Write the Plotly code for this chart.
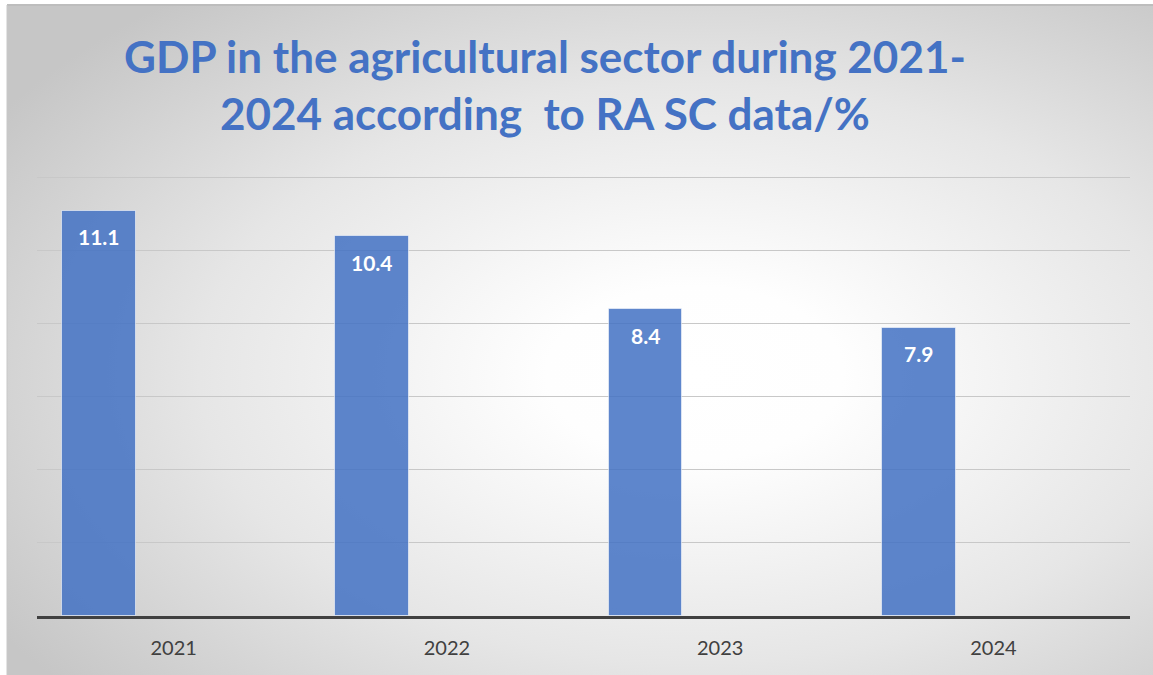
import base64
import plotly.graph_objects as go

years = ["2021", "2022", "2023", "2024"]
gdp_share = [11.1, 10.4, 8.4, 7.9]
y_ticks = [0, 2, 4, 6, 8, 10, 12]
title_text = "GDP in the agricultural sector during 2021-<br>2024 according\u00a0 to RA SC data/%"

W, H = 1153, 675
L, R, T, B = 37, 23, 176, 59
pw, ph = W - L - R, H - T - B

svg = (
    "<svg xmlns='http://www.w3.org/2000/svg' width='1146' height='670' viewBox='0 0 1146 670' "
    "preserveAspectRatio='none'><defs><radialGradient id='g' cx='0.6' cy='0.55' r='0.72'>"
    "<stop offset='0' stop-color='#ffffff'/><stop offset='0.18' stop-color='#fefefe'/>"
    "<stop offset='0.6' stop-color='#e6e6e6'/>"
    "<stop offset='1' stop-color='#c6c6c6'/></radialGradient></defs>"
    "<rect width='1146' height='670' fill='url(#g)'/></svg>"
)
bg_uri = "data:image/svg+xml;base64," + base64.b64encode(svg.encode()).decode()

fx0 = (7 - L) / pw
fy_top = (H - B - 5) / ph
fx1 = (W - L) / pw
fy_bot = (H - B - H) / ph

bar_offset = -0.408
bar_width = 0.27

fig = go.Figure()
fig.add_trace(go.Bar(
    x=years, y=gdp_share,
    width=[bar_width] * len(years), offset=[bar_offset] * len(years),
    marker=dict(color="rgba(68,114,196,0.86)", line=dict(color="rgba(255,255,255,0.55)", width=1)),
    hoverinfo="x+y", showlegend=False,
))

annotations = []
for i, v in enumerate(gdp_share):
    annotations.append(dict(
        x=i + bar_offset + bar_width / 2, y=v, xref="x", yref="y",
        text=f"<b>{v}</b>", showarrow=False, yanchor="middle", yshift=-26,
        font=dict(family="Lato", size=21, color="white"),
    ))

annotations.append(dict(
    x=(545 - L) / pw, y=(H - B - 84) / ph, xref="paper", yref="paper",
    xanchor="center", yanchor="middle", showarrow=False,
    text=f"<b>{title_text}</b>",
    font=dict(family="Lato", size=44, color="#4472C4"),
))

fig.update_layout(
    width=W, height=H,
    margin=dict(l=L, r=R, t=T, b=B),
    paper_bgcolor="white", plot_bgcolor="rgba(0,0,0,0)",
    images=[dict(
        source=bg_uri, xref="paper", yref="paper", x=fx0, y=fy_top,
        sizex=fx1 - fx0, sizey=fy_top - fy_bot, sizing="stretch",
        xanchor="left", yanchor="top", layer="below",
    )],
    shapes=[dict(
        type="line", xref="paper", yref="paper", x0=fx0, x1=fx1, y0=fy_top, y1=fy_top,
        line=dict(color="#bdbdbd", width=2),
    ), dict(
        type="line", xref="paper", yref="paper", x0=fx0, x1=fx0, y0=fy_bot, y1=fy_top,
        line=dict(color="#c8c8c8", width=1),
    )],
    annotations=annotations,
    xaxis=dict(
        type="category", range=[-0.5, 3.5], showline=True, linecolor="#404040", linewidth=3,
        showgrid=False, ticks="outside", ticklen=12, tickcolor="rgba(0,0,0,0)",
        tickfont=dict(family="Lato", size=20, color="#404040"),
    ),
    yaxis=dict(
        range=[0, 12.05], tickvals=y_ticks, showticklabels=False, showgrid=True,
        gridcolor="#c8c8c8", gridwidth=1, zeroline=False, showline=False,
    ),
    bargap=0,
)

fig.write_html("out.html")
